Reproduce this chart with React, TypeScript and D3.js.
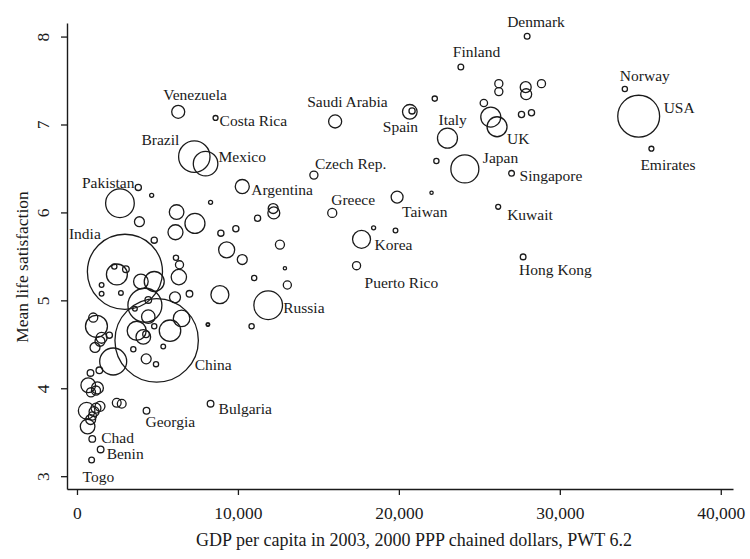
import React, { useEffect, useRef } from 'react';
import * as d3 from 'd3';

// labelled countries
const names = ['Denmark', 'Finland', 'Norway', 'USA', 'Emirates', 'Japan', 'Singapore', 'Kuwait', 'Hong Kong', 'Taiwan', 'Korea', 'Puerto Rico', 'Greece', 'Czech Rep.', 'Argentina', 'Saudi Arabia', 'Spain', 'Italy', 'UK', 'Venezuela', 'Costa Rica', 'Brazil', 'Mexico', 'Pakistan', 'India', 'China', 'Russia', 'Bulgaria', 'Georgia', 'Chad', 'Benin', 'Togo'];
const namedGdp = [27970, 23850, 34040, 34900, 35690, 24100, 27000, 26170, 27720, 19890, 17680, 17370, 15860, 14720, 10270, 16040, 20680, 23020, 26100, 6290, 8610, 7290, 7990, 2670, 2980, 4950, 11880, 8300, 4320, 950, 1470, 910];
const namedSat = [8.01, 7.66, 7.41, 7.1, 6.73, 6.5, 6.45, 6.07, 5.5, 6.18, 5.7, 5.4, 6.0, 6.43, 6.3, 7.04, 7.15, 6.85, 6.98, 7.15, 7.08, 6.64, 6.56, 6.11, 5.33, 4.55, 4.95, 3.83, 3.75, 3.43, 3.31, 3.19];
const namedPop = [6, 6, 5, 320, 4.5, 143, 6, 4.5, 6, 26, 59, 12, 15, 12, 36, 31, 39, 73, 73, 31, 4.5, 180, 110, 150, 1030, 1270, 150, 8, 8, 8, 8, 6];

// countries without a label
const otherGdp = [
  20820, 22230, 22330, 25280, 25710, 26210, 26210, 27880, 27910, 28860, 27620, 28240, 22030, 18430, 19790,
  3810, 4640, 8300, 6190, 7330, 3880, 6120, 4800, 8940, 9870, 11220, 12190, 12230, 9300, 10270, 12610, 12920, 13070, 11010, 8880, 6990, 8120, 10850, 6150, 6370, 6330, 6090,
  2480, 2320, 3040, 1530, 1530, 2730, 3970, 4800,
  4220, 4430, 3600, 4430, 3710, 4120, 4290, 6500, 5780, 4800, 5360, 3500, 4300, 4910, 8150,
  1010, 1210, 1530, 1430, 2010, 1120, 2250, 840, 1390, 700, 1270, 1180, 870, 600, 1060, 1180, 960, 850, 1430, 660, 2470, 2780,
];
const otherSat = [
  7.16, 7.3, 6.59, 7.25, 7.09, 7.47, 7.38, 7.43, 7.35, 7.47, 7.12, 7.14, 6.23, 5.83, 5.8,
  6.29, 6.2, 6.12, 6.01, 5.88, 5.9, 5.78, 5.69, 5.77, 5.82, 5.94, 6.05, 6.0, 5.58, 5.47, 5.64, 5.37, 5.18, 5.26, 5.07, 5.08, 4.73, 4.71, 5.49, 5.41, 5.27, 5.04,
  5.3, 5.39, 5.36, 5.18, 5.08, 5.09, 5.22, 5.22,
  4.95, 5.01, 4.91, 4.82, 4.66, 4.59, 4.62, 4.8, 4.66, 4.71, 4.48, 4.45, 4.34, 4.28, 4.73,
  4.81, 4.71, 4.58, 4.54, 4.61, 4.47, 4.31, 4.18, 4.21, 4.04, 4.01, 3.98, 3.96, 3.75, 3.74, 3.78, 3.69, 3.65, 3.8, 3.57, 3.84, 3.83,
];
const otherPop = [
  7, 5, 5, 10, 73, 12, 12, 22, 22, 12, 7, 7, 2, 3, 4,
  7, 3, 3, 39, 73, 18, 41, 7, 7, 7, 7, 18, 26, 47, 18, 15, 2, 12, 5, 59, 8, 2, 5, 5, 12, 43, 22,
  80, 5, 8, 4, 4, 4, 39, 73,
  211, 8, 4, 33, 66, 39, 8, 50, 84, 5, 4, 5, 18, 5, 2,
  15, 88, 22, 18, 7, 18, 133, 8, 8, 39, 26, 15, 15, 50, 18, 18, 12, 18, 18, 39, 14, 14,
];

const xTicks = [0, 10000, 20000, 30000, 40000];
const yTicks = [3, 4, 5, 6, 7, 8];

// where each label sits next to its circle: [anchor, dx, dy]
const labelPlace: Record<string, [string, number, number]> = {
  Denmark: ['start', -20, -9], Finland: ['start', -8, -10], Norway: ['start', -5, -8],
  USA: ['start', 25, -3], Emirates: ['start', -11, 21], Japan: ['start', 18, -6],
  Singapore: ['start', 8, 8], Kuwait: ['start', 9, 13], 'Hong Kong': ['start', -4, 18],
  Taiwan: ['start', 5, 20], Korea: ['start', 13, 11], 'Puerto Rico': ['start', 8, 22],
  Greece: ['start', -1, -8], 'Czech Rep.': ['start', 1, -6], Argentina: ['start', 9, 8],
  'Saudi Arabia': ['start', -28, -14], Spain: ['start', -27, 20], Italy: ['start', -9, -13],
  UK: ['start', 10, 17], Venezuela: ['start', -15, -12], 'Costa Rica': ['start', 4, 8],
  Brazil: ['end', -15, -12], Mexico: ['start', 13, -2], Pakistan: ['start', -38, -15],
  India: ['start', -56, -33], China: ['start', 38, 30], Russia: ['start', 15, 8],
  Bulgaria: ['start', 8, 10], Georgia: ['start', -1, 16], Chad: ['start', 9, 4],
  Benin: ['start', 6, 10], Togo: ['start', -9, 22],
};

const W = 750;
const H = 559;
const FONT = '"Liberation Serif", "Times New Roman", serif';
const INK = '#1a1a1a';

export default function App() {
  const ref = useRef<SVGSVGElement>(null);

  useEffect(() => {
    const svg = d3.select(ref.current);
    svg.selectAll('*').remove();

    const x = d3.scaleLinear().domain([-620, 40760]).range([67, 733]);
    const y = d3.scaleLinear().domain([2.86, 8.16]).range([489, 23]);
    const r = d3.scaleSqrt().domain([0, 1300]).range([0, 42.2]);

    const points = [
      ...otherGdp.map((g, i) => ({ name: '', gdp: g, sat: otherSat[i], pop: otherPop[i] })),
      ...names.map((n, i) => ({ name: n, gdp: namedGdp[i], sat: namedSat[i], pop: namedPop[i] })),
    ];

    // axes
    const xAxis = svg
      .append('g')
      .attr('transform', `translate(0,${y(2.86)})`)
      .call(d3.axisBottom(x).tickValues(xTicks).tickFormat(d3.format(',')).tickSize(6).tickSizeOuter(0));
    xAxis.selectAll('text').attr('font-family', FONT).attr('font-size', 17.5).attr('fill', INK).attr('dy', '1.2em');

    const yAxis = svg
      .append('g')
      .attr('transform', `translate(${x(-620)},0)`)
      .call(d3.axisLeft(y).tickValues(yTicks).tickFormat(d3.format('d')).tickSize(6).tickSizeOuter(0));
    yAxis
      .selectAll('text')
      .attr('font-family', FONT)
      .attr('font-size', 17.5)
      .attr('fill', INK)
      .attr('x', null)
      .attr('dy', null)
      .attr('text-anchor', 'middle')
      .attr('transform', (d: any) => `translate(-18,${y(d)}) rotate(-90)`)
      .attr('y', 0);
    yAxis.selectAll('.tick').attr('transform', null);
    yAxis.selectAll('.tick line').attr('transform', (d: any) => `translate(0,${y(d)})`);

    [xAxis, yAxis].forEach((a) => {
      a.select('.domain').attr('stroke', INK).attr('stroke-width', 1.4);
      a.selectAll('.tick line').attr('stroke', INK).attr('stroke-width', 1.3);
    });

    // axis titles
    svg
      .append('text')
      .attr('x', 414)
      .attr('y', 546)
      .attr('text-anchor', 'middle')
      .attr('font-family', FONT)
      .attr('font-size', 18)
      .attr('fill', INK)
      .text('GDP per capita in 2003, 2000 PPP chained dollars, PWT 6.2');

    svg
      .append('text')
      .attr('transform', 'translate(28,267) rotate(-90)')
      .attr('text-anchor', 'middle')
      .attr('font-family', FONT)
      .attr('font-size', 17.5)
      .attr('fill', INK)
      .text('Mean life satisfaction');

    // bubbles
    svg
      .append('g')
      .selectAll('circle')
      .data(points)
      .enter()
      .append('circle')
      .attr('cx', (d) => x(d.gdp))
      .attr('cy', (d) => y(d.sat))
      .attr('r', (d) => r(d.pop))
      .attr('fill', 'none')
      .attr('stroke', INK)
      .attr('stroke-width', 1.3);

    // country labels
    svg
      .append('g')
      .selectAll('text')
      .data(points.filter((d) => d.name))
      .enter()
      .append('text')
      .attr('x', (d) => x(d.gdp) + labelPlace[d.name][1])
      .attr('y', (d) => y(d.sat) + labelPlace[d.name][2])
      .attr('text-anchor', (d) => labelPlace[d.name][0])
      .attr('font-family', FONT)
      .attr('font-size', 15.5)
      .attr('fill', INK)
      .text((d) => d.name);
  }, []);

  return (
    <svg
      ref={ref}
      width={W}
      height={H}
      style={{ position: 'absolute', left: 0, top: 0, background: '#fff' }}
    ></svg>
  );
}
